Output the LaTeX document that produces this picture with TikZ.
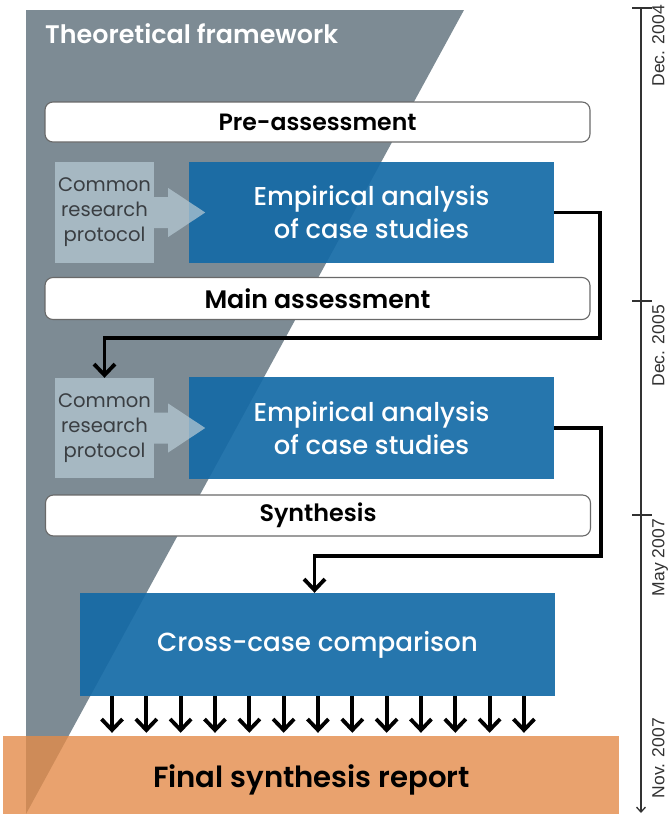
\documentclass[tikz,border=0pt]{standalone}
\usepackage{fontspec}
\setmainfont{Poppins}
\IfFontExistsTF{Poppins SemiBold}
  {\newfontfamily\popsb{Poppins SemiBold}}
  {\newfontfamily\popsb{Poppins}[FakeBold=1.2]}
\IfFontExistsTF{Poppins Medium}
  {\newfontfamily\popmd{Poppins Medium}}
  {\newfontfamily\popmd{Poppins}[FakeBold=0.8]}
\newfontfamily\tlfont{Liberation Sans}
\usetikzlibrary{arrows.meta,calc}
\definecolor{fwgray}{RGB}{125,139,148}
\definecolor{empblue}{RGB}{20,106,166}
\definecolor{protocol}{RGB}{182,202,212}
\definecolor{finorange}{RGB}{227,139,74}
\definecolor{bordergray}{RGB}{105,105,105}
\definecolor{prototext}{RGB}{58,62,66}
\definecolor{tlgray}{RGB}{50,50,50}
\newlength\tmpw
\newcommand\fitsize[3]{%
  \settowidth\tmpw{\fontsize{20pt}{20pt}\selectfont #2}%
  \pgfmathsetmacro\myfs{20*#1/\tmpw}%
  \fontsize{\myfs pt}{#3}\selectfont}
\begin{document}
\begin{tikzpicture}[x=1pt,y=-1pt,
  phasebox/.style={draw=bordergray, line width=1.1pt, fill=white, rounded corners=8pt,
    minimum width=545pt, inner sep=0pt, text=black},
  empbox/.style={fill=empblue, fill opacity=0.92, text opacity=1, text=white,
    minimum width=365pt, minimum height=101pt, inner sep=0pt, align=center},
  protobox/.style={fill=protocol, fill opacity=0.72, text opacity=1, text=prototext,
    minimum width=99pt, minimum height=101pt, inner sep=0pt, align=center},
  protofill/.style={fill=protocol, fill opacity=0.72},
  conn/.style={line width=3.8pt, draw=black, miter limit=10,
    -{Straight Barb[length=11pt,width=21pt]}},
  tlline/.style={line width=1.3pt, draw=tlgray},
  tllabel/.style={rotate=90, inner sep=0pt, text=tlgray,
    font=\tlfont\fontsize{17.5pt}{17.5pt}\selectfont}
]
\useasboundingbox (0,0) rectangle (668,814);

% theoretical framework background
\fill[fwgray] (26,10) -- (464,10) -- (26,814) -- cycle;
\node[text=white, inner sep=0pt, anchor=base west,
  font={\popsb\fitsize{293}{Theoretical framework}{24pt}}] (title) at (45,43) {Theoretical framework};

% phase boxes
\node[phasebox, minimum height=40pt, font={\popsb\fitsize{198}{Pre-assessment}{22pt}}]
  (pre) at (317.5,122) {Pre-assessment};
\node[phasebox, minimum height=42pt, font={\popsb\fitsize{226}{Main assessment}{22pt}}]
  (main) at (317.5,298.5) {Main assessment};
\node[phasebox, minimum height=41pt, font={\popsb\fitsize{117}{Synthesis}{22pt}}]
  (syn) at (318,515.5) {Synthesis};

% empirical analysis boxes
\node[empbox, font={\popmd\fitsize{236}{Empirical analysis}{33pt}}]
  (emp1) at (371.5,212.5) {Empirical analysis\\of case studies};
\node[empbox, minimum height=102pt, font={\popmd\fitsize{236}{Empirical analysis}{33pt}}]
  (emp2) at (371.5,428) {Empirical analysis\\of case studies};

% common research protocol
\node[protobox, font={\fitsize{93}{Common}{25pt}}]
  (proto1) at (104.5,212.5) {Common\\research\\protocol};
\node[protobox, minimum height=100pt, font={\fitsize{93}{Common}{25pt}}]
  (proto2) at (104.5,428) {Common\\research\\protocol};
\foreach \p in {proto1,proto2}{
  \fill[protofill] ($(\p.east)+(0,-15.5)$) -- ++(14,0) -- ++(0,-9)
    -- ($(\p.east)+(51,0)$) -- ($(\p.east)+(14,24.5)$) -- ++(0,-9)
    -- ($(\p.east)+(0,15.5)$) -- cycle;
}

% cross-case comparison
\node[empbox, minimum width=475pt, minimum height=103pt,
  font={\popmd\fitsize{321}{Cross-case comparison}{24pt}}]
  (cc) at (317.5,644.5) {Cross-case comparison};

% final synthesis report
\node[fill=finorange, fill opacity=0.8, minimum width=616pt, minimum height=78pt,
  inner sep=0pt] (fin) at (311,775) {};
\node[inner sep=0pt, anchor=base, text=black,
  font={\popsb\fitsize{317}{Final synthesis report}{30pt}}]
  (finlabel) at (311.5,787) {Final synthesis report};

% connectors
\coordinate (c1a) at (600,338);
\draw[conn] (emp1.east) -| (c1a) -| (proto2.north);
\coordinate (c2a) at (601,556);
\draw[conn] (emp2.east) -| (c2a) -| ($(cc.north)+(-3,0)$);
\foreach \i in {0,...,12}{
  \coordinate (ax\i) at ({112+34.33*\i},0);
  \draw[conn, shorten >=3pt] (cc.south -| ax\i) -- (fin.north -| ax\i);
}

% timeline
\coordinate (tl0) at (641,8);
\coordinate (tl1) at (641,301);
\coordinate (tl2) at (641,515);
\coordinate (tl3) at (641,718);
\coordinate (tlend) at (641,813);
\draw[tlline, -{Straight Barb[length=5pt,width=9pt]}] (tl0) -- (tlend);
\foreach \t in {tl0,tl1,tl2}{
  \draw[tlline] ($(\t)+(-9,0)$) -- ($(\t)+(11,0)$);
}
\node[tllabel, anchor=north east] (lab0) at ($(tl0)+(11,-3)$) {Dec. 2004};
\node[tllabel, anchor=north east] (lab1) at ($(tl1)+(11,4)$) {Dec. 2005};
\node[tllabel, anchor=north east] (lab2) at ($(tl2)+(11,4)$) {May 2007};
\node[tllabel, anchor=north east] (lab3) at ($(tl3)+(11,0)$) {Nov. 2007};
\end{tikzpicture}
\end{document}
